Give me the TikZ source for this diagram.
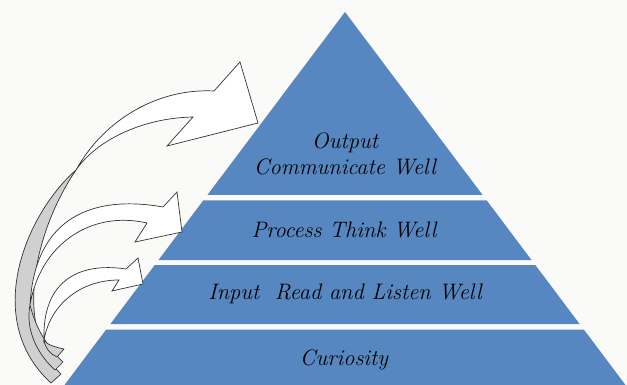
\documentclass[tikz,border=0pt]{standalone}
\definecolor{pyrblue}{RGB}{86,135,192}
\definecolor{backgray}{RGB}{208,208,208}
\definecolor{paper}{RGB}{250,250,248}
\begin{document}
\begin{tikzpicture}[x=1pt,y=-1pt,
  level/.style={fill=pyrblue},
  lbl/.style={font=\fontsize{22.4}{26}\selectfont\itshape, text=black,
    inner sep=0pt, anchor=base},
  face/.style={fill=white, draw=black!80, line width=0.7pt, line join=miter},
  back/.style={fill=backgray, draw=black!80, line width=0.7pt, line join=round}]

% page
\fill[paper] (0,0) rectangle (627,385);
\useasboundingbox (0,0) rectangle (627,385);

% pyramid levels (edges follow x = 345 +- 0.752 (y - 12))
\fill[level] (345,12) -- (482.6,195) -- (207.4,195) -- cycle;
\fill[level] (203.2,200.5) -- (486.8,200.5) -- (531.5,260) -- (158.5,260) -- cycle;
\fill[level] (154.7,265) -- (535.3,265) -- (579.6,324) -- (110.4,324) -- cycle;
\fill[level] (106.2,329.5) -- (583.8,329.5) -- (625.5,385) -- (64.5,385) -- cycle;

% level labels
\node[lbl, align=center, anchor=center] (out) at (345,154) {Output\\Communicate Well};
\node[lbl] (proc) at (344,237) {Process Think Well};
\node[lbl] (inp)  at (345,299) {Input\ \ Read and Listen Well};
\node[lbl] (cur)  at (344,365) {Curiosity};

% curved block arrows: white front face, grey back face at the tail
% arrow to the top level
\filldraw[face] (214,91) -- (240,62) -- (258,123) -- (167,146) -- (193,117)
  .. controls (140,118) and (95,142) .. (76,170)
  .. controls (105,118) and (160,88) .. cycle;
\filldraw[back] (76,170) .. controls (25,215) and (-18,320) .. (51,383)
  -- (61,374) .. controls (15,330) and (32,235) .. (76,170) -- cycle;

% arrow to the second level
\filldraw[face] (163,207) -- (177,192) -- (182,232) -- (135,242) -- (147,223)
  .. controls (90,210) and (40,245) .. (30,305)
  .. controls (35,215) and (95,195) .. cycle;
\filldraw[back] (30,305) .. controls (25,330) and (38,355) .. (55,370)
  -- (63,362) .. controls (45,345) and (35,325) .. (30,305) -- cycle;

% arrow to the third level
\filldraw[face] (126,269) -- (138,258) -- (143,284) -- (112,291) -- (119,280)
  .. controls (80,280) and (50,305) .. (44,340)
  .. controls (42,280) and (80,262) .. cycle;
\filldraw[back] (44,340) .. controls (45,348) and (50,354) .. (57,357)
  -- (64,349) .. controls (55,347) and (47,345) .. (44,340) -- cycle;
\end{tikzpicture}
\end{document}
